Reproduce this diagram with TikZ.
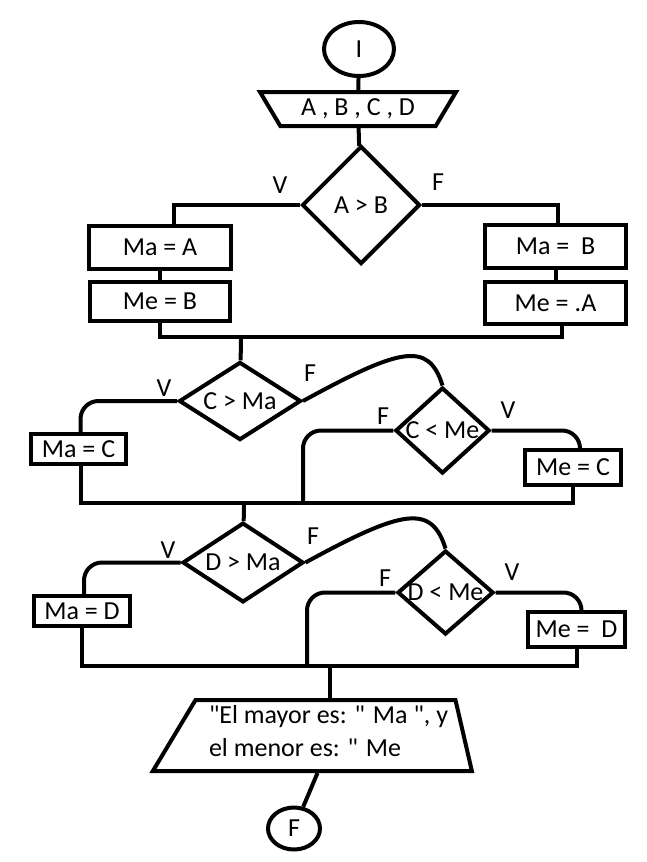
\documentclass[tikz,border=0pt]{standalone}
\usepackage{fontspec}
\setmainfont{Carlito}
\usetikzlibrary{shapes.geometric}

\begin{document}
\begin{tikzpicture}[x=1pt,y=-1pt,line width=4pt,
		every node/.style={font=\fontsize{26}{33}\selectfont},
		caja/.style={draw,rectangle,inner sep=0pt},
		decision/.style={draw,diamond,inner sep=0pt,aspect=1.2},
		terminal/.style={draw,ellipse,inner sep=0pt},
		datos/.style={draw,trapezium,trapezium stretches body=true,inner sep=2pt},
		rotulo/.style={inner sep=0pt}]
	\useasboundingbox (0,0) rectangle (646,862);
	        \node[terminal,minimum width=70pt,minimum height=54pt] at (359,49) (ini) {I};
	        \node[datos,shape border rotate=180,trapezium left angle=50,trapezium right angle=50,minimum width=196pt,minimum height=34pt] at (358,109) (leer) {A , B , C , D};
	        \node[decision,minimum width=118pt,minimum height=118pt] at (361,205) (ab) {A > B};
	        \node[caja,minimum width=142pt,minimum height=43pt] at (160,247.5) (maa) {Ma = A};
	        \node[caja,minimum width=140pt,minimum height=39pt] at (160,301.5) (meb) {Me = B};
	        \node[caja,minimum width=141pt,minimum height=43pt] at (555.5,246.5) (mab) {Ma = \ B};
	        \node[caja,minimum width=141pt,minimum height=42pt] at (555.5,303) (mea) {Me = .A};
	        \node[decision,minimum width=122pt,minimum height=77pt] at (240,401) (cma) {C > Ma};
	        \node[decision,minimum width=94pt,minimum height=86pt] at (442.5,430.5) (cme) {C < Me};
	        \node[caja,minimum width=95pt,minimum height=30pt] at (78.5,449) (mac) {Ma = C};
	        \node[caja,minimum width=96pt,minimum height=35pt] at (573,467.5) (mec) {Me = C};
	        \node[decision,minimum width=121pt,minimum height=76pt] at (243,562.5) (dma) {D > Ma};
	        \node[decision,minimum width=94pt,minimum height=84pt] at (445.5,592.5) (dme) {D < Me};
	        \node[caja,minimum width=96pt,minimum height=30pt] at (82,611) (mad) {Ma = D};
	        \node[caja,minimum width=97pt,minimum height=35pt] at (576.5,629.5) (med) {Me = \ D};
	        \node[datos,inner ysep=35.5pt,trapezium left angle=59,trapezium right angle=77,minimum width=319pt] at (325.5,735.5) (salida) {};
	        \node[rotulo,align=left,anchor=west] at (207,731) (msg) {\textquotedbl El mayor es: \textquotedbl{} Ma \textquotedbl, y\\el menor es: \textquotedbl{} Me};
	        \node[terminal,minimum width=52pt,minimum height=42pt] at (294,828.5) (fin) {F};
		
	        \node[rotulo] at (280,185) (v1) {V};
	        \node[rotulo] at (438,182) (f1) {F};
	        \node[rotulo] at (164,388) (v2) {V};
	        \node[rotulo] at (310,373) (f2) {F};
	        \node[rotulo] at (383,416) (f3) {F};
	        \node[rotulo] at (508,410) (v3) {V};
	        \node[rotulo] at (168,550) (v4) {V};
	        \node[rotulo] at (313,536) (f4) {F};
	        \node[rotulo] at (385,578) (f5) {F};
	        \node[rotulo] at (512,572) (v5) {V};
		
	        \coordinate (u1) at (241,337);
	        \coordinate (u2) at (244,503);
	        \coordinate (j2) at (303,503);
	        \coordinate (u3) at (330,666);
	        \coordinate (j3) at (307,666);
		
			\draw (ini) -- (leer);
			\draw (leer) -- (ab);
			\draw (ab.west) -| ([xshift=14pt]maa.north);
			\draw (ab.east) -| ([xshift=2pt]mab.north);
			\draw (maa) -- (meb);
			\draw (mab) -- (mea);
			\draw (meb.south) |- (u1) -| ([xshift=6pt]mea.south);
			\draw (u1) -- (cma);
			\draw[rounded corners=18pt] (cma.west) -| ([xshift=2pt]mac.north);
			\draw (cma.east) .. controls +(97,-53) and +(-14,-45) .. (cme.north);
			\draw[rounded corners=18pt] (cme.west) -| (j2);
			\draw[rounded corners=18pt] (cme.east) -| ([xshift=7pt]mec.north);
			\draw ([xshift=2pt]mac.south) |- (u2) -| (mec.south);
			\draw (u2) -- (dma);
			\draw[rounded corners=18pt] (dma.west) -| ([xshift=2pt]mad.north);
			\draw (dma.east) .. controls +(97,-53) and +(-14,-45) .. (dme.north);
			\draw[rounded corners=18pt] (dme.west) -| (j3);
			\draw[rounded corners=18pt] (dme.east) -| ([xshift=5pt]med.north);
			\draw (mad.south) |- (u3) -| (med.south);
			\draw (u3) -- (u3 |- salida.north);
			\draw ([xshift=-8pt]salida.south) -- (fin);
		\end{tikzpicture}
\end{document}
